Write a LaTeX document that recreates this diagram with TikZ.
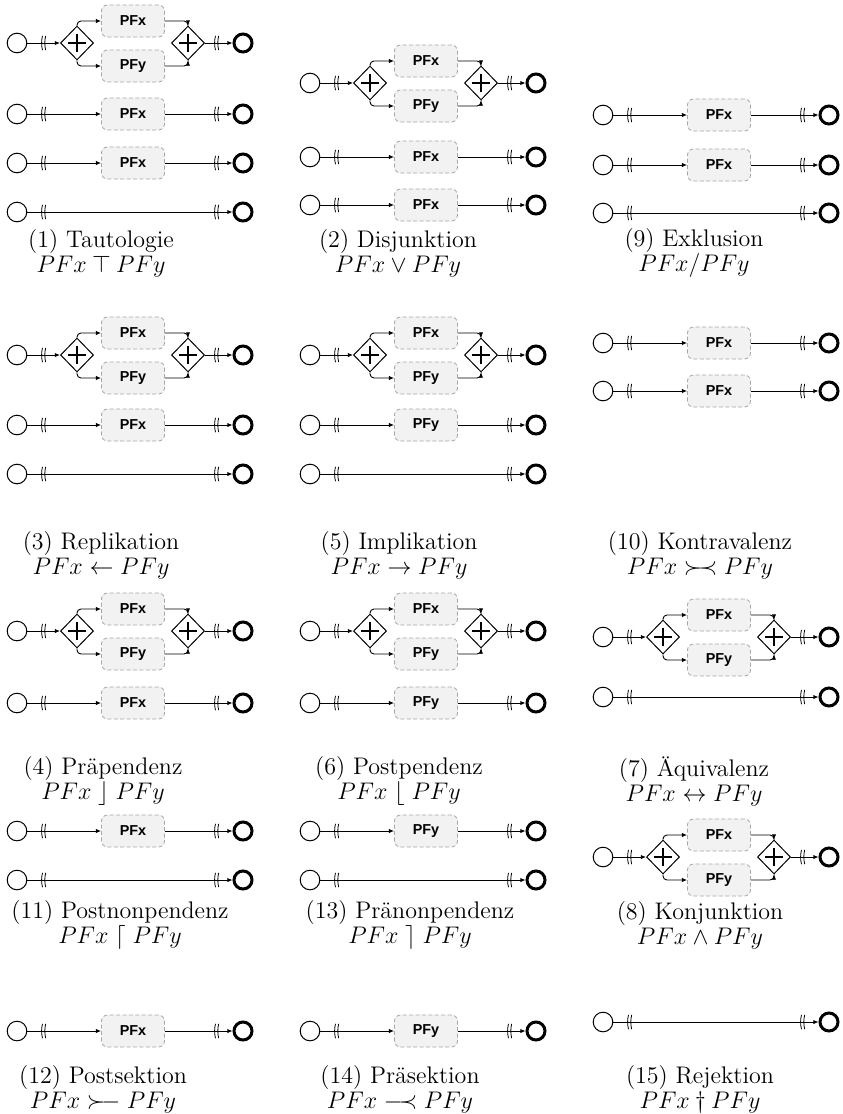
\documentclass[tikz,border=0pt]{standalone}
\usepackage{fontspec}
\newfontfamily\boxfont{Liberation Sans}
\usetikzlibrary{shapes.geometric, arrows.meta, positioning}

% symbols for the captions
\newcommand{\kontra}{\mathrel{\succ\mkern-3mu\prec}}
\newcommand{\postsek}{\mathrel{\succ\mkern-3mu\relbar}}
\newcommand{\praesek}{\mathrel{\relbar\mkern-3mu\prec}}

\tikzset{brk/.pic={
    \draw[line width=0.4pt] (-0.5pt,3.6pt) .. controls (-1.1pt,1.2pt) and (-1.1pt,-1.2pt) .. (-0.5pt,-3.6pt);
    \draw[line width=0.4pt] (1.1pt,3.6pt) .. controls (0.5pt,1.2pt) and (0.5pt,-1.2pt) .. (1.1pt,-3.6pt);
}}

% one row: start -> gateway -> PFx / PFy -> gateway -> end
\newcommand{\gaterow}[2]{%
    \node [startev] (#1s) at (#2) {};
    \node [gate, right of=#1s, node distance=30pt] (#1g1) {};
    \node [task, right of=#1g1, node distance=28pt, yshift=11pt] (#1x) {PFx};
    \node [task, right of=#1g1, node distance=28pt, yshift=-11.5pt] (#1y) {PFy};
    \node [gate, right of=#1g1, node distance=55.5pt] (#1g2) {};
    \node [endev, right of=#1g2, node distance=27.5pt] (#1e) {};
    \coordinate [right of=#1s, node distance=13.25pt] (#1b1);
    \coordinate [left of=#1e, node distance=13.25pt] (#1b2);
    \draw [flow] (#1s) -- (#1g1);
    \draw [flow, rounded corners=2pt] (#1g1.north) |- (#1x);
    \draw [flow, rounded corners=2pt] (#1g1.south) |- (#1y);
    \draw [flow, rounded corners=2pt] (#1x) -| (#1g2.north);
    \draw [flow, rounded corners=2pt] (#1y) -| (#1g2.south);
    \draw [flow] (#1g2) -- (#1e);
    \pic at (#1b1) {brk};
    \pic at (#1b2) {brk};
}

% one row: start -> task -> end
\newcommand{\taskrow}[3]{%
    \node [startev] (#1s) at (#2) {};
    \node [task, right of=#1s, node distance=58pt] (#1t) {#3};
    \node [endev, right of=#1s, node distance=113pt] (#1e) {};
    \coordinate [right of=#1s, node distance=13.25pt] (#1b1);
    \coordinate [left of=#1e, node distance=13.25pt] (#1b2);
    \draw [flow] (#1s) -- (#1t);
    \draw [flow] (#1t) -- (#1e);
    \pic at (#1b1) {brk};
    \pic at (#1b2) {brk};
}

% one row: start -> end
\newcommand{\linerow}[2]{%
    \node [startev] (#1s) at (#2) {};
    \node [endev, right of=#1s, node distance=113pt] (#1e) {};
    \coordinate [right of=#1s, node distance=13.25pt] (#1b1);
    \coordinate [left of=#1e, node distance=13.25pt] (#1b2);
    \draw [flow] (#1s) -- (#1e);
    \pic at (#1b1) {brk};
    \pic at (#1b2) {brk};
}

\begin{document}
\begin{tikzpicture}[x=1pt, y=1pt]
    \tikzstyle{startev} = [circle, draw, line width=0.5pt, minimum size=9.8pt, inner sep=0pt, fill=white]
    \tikzstyle{endev} = [circle, draw, line width=1.5pt, minimum size=9pt, inner sep=0pt, fill=white]
    \tikzstyle{gate} = [diamond, draw, line width=0.5pt, minimum width=16.5pt, minimum height=17pt, inner sep=0pt, fill=white,
        path picture={\draw[line width=1.4pt] ([xshift=-4.4pt]path picture bounding box.center) -- ++(8.8pt,0pt)
            ([yshift=-4.4pt]path picture bounding box.center) -- ++(0pt,8.8pt);}]
    \tikzstyle{task} = [rectangle, rounded corners=3pt, draw=gray!70, dash pattern=on 2pt off 1.2pt, fill=gray!10,
        minimum width=31.5pt, minimum height=16pt, inner sep=0pt, font=\boxfont\bfseries\fontsize{7.2}{8}\selectfont]
    \tikzstyle{flow} = [line width=0.45pt, -{Latex[length=2.6pt,width=2.2pt]}]
    \tikzstyle{capt} = [font=\fontsize{12}{12.5}\selectfont, inner sep=0pt, align=center]

    \useasboundingbox (0,0) rectangle (421,-557);

    % (1) Tautologie
    \gaterow{t1a}{8.5,-21.5}
    \taskrow{t1b}{8.5,-57}{PFx}
    \taskrow{t1c}{8.5,-81.5}{PFx}
    \linerow{t1d}{8.5,-106}
    \node [capt] (c1) at (50.5,-126.5) {(1) Tautologie\\$PFx \mathbin{\top} PFy$};

    % (2) Disjunktion
    \gaterow{t2a}{155,-41.5}
    \taskrow{t2b}{155,-78.5}{PFx}
    \taskrow{t2c}{155,-102.5}{PFx}
    \node [capt] (c2) at (199,-126.5) {(2) Disjunktion\\$PFx \vee PFy$};

    % (9) Exklusion
    \taskrow{t9a}{301.5,-57.5}{PFx}
    \taskrow{t9b}{301.5,-82.5}{PFx}
    \linerow{t9c}{301.5,-106.5}
    \node [capt] (c9) at (347,-126.5) {(9) Exklusion\\$PFx/PFy$};

    % (3) Replikation
    \gaterow{t3a}{8.5,-177.5}
    \taskrow{t3b}{8.5,-212.5}{PFx}
    \linerow{t3c}{8.5,-237}
    \node [capt] (c3) at (50.5,-277.5) {(3) Replikation\\$PFx \leftarrow PFy$};

    % (5) Implikation
    \gaterow{t5a}{155,-177.5}
    \taskrow{t5b}{155,-212.5}{PFy}
    \linerow{t5c}{155,-237}
    \node [capt] (c5) at (199.5,-277.5) {(5) Implikation\\$PFx \rightarrow PFy$};

    % (10) Kontravalenz
    \taskrow{t10a}{301.5,-171.5}{PFx}
    \taskrow{t10b}{301.5,-195.5}{PFx}
    \node [capt] (c10) at (350,-277.5) {(10) Kontravalenz\\$PFx \kontra PFy$};

    % (4) Praependenz
    \gaterow{t4a}{8.5,-315.5}
    \taskrow{t4b}{8.5,-351.5}{PFx}
    \node [capt] (c4) at (51.5,-390.5) {(4) Präpendenz\\$PFx \mathrel{\rfloor} PFy$};

    % (6) Postpendenz
    \gaterow{t6a}{155,-315.5}
    \taskrow{t6b}{155,-351.5}{PFy}
    \node [capt] (c6) at (199.5,-390.5) {(6) Postpendenz\\$PFx \mathrel{\lfloor} PFy$};

    % (7) Aequivalenz
    \gaterow{t7a}{301.5,-318.5}
    \linerow{t7b}{301.5,-348.5}
    \node [capt] (c7) at (347,-390.5) {(7) Äquivalenz\\$PFx \leftrightarrow PFy$};

    % (11) Postnonpendenz
    \taskrow{t11a}{8.5,-415.5}{PFx}
    \linerow{t11b}{8.5,-440}
    \node [capt] (c11) at (60,-462.5) {(11) Postnonpendenz\\$PFx \mathrel{\lceil} PFy$};

    % (13) Praenonpendenz
    \taskrow{t13a}{155,-415.5}{PFy}
    \linerow{t13b}{155,-440}
    \node [capt] (c13) at (205,-462.5) {(13) Pränonpendenz\\$PFx \mathrel{\rceil} PFy$};

    % (8) Konjunktion
    \gaterow{t8a}{301.5,-428.5}
    \node [capt] (c8) at (350,-462.5) {(8) Konjunktion\\$PFx \wedge PFy$};

    % (12) Postsektion
    \taskrow{t12a}{8.5,-515.5}{PFx}
    \node [capt] (c12) at (51.5,-544.5) {(12) Postsektion\\$PFx \postsek PFy$};

    % (14) Praesektion
    \taskrow{t14a}{155,-515.5}{PFy}
    \node [capt] (c14) at (200,-544.5) {(14) Präsektion\\$PFx \praesek PFy$};

    % (15) Rejektion
    \linerow{t15a}{301.5,-511}
    \node [capt] (c15) at (350,-544.5) {(15) Rejektion\\$PFx \mathbin{\dagger} PFy$};
\end{tikzpicture}
\end{document}
